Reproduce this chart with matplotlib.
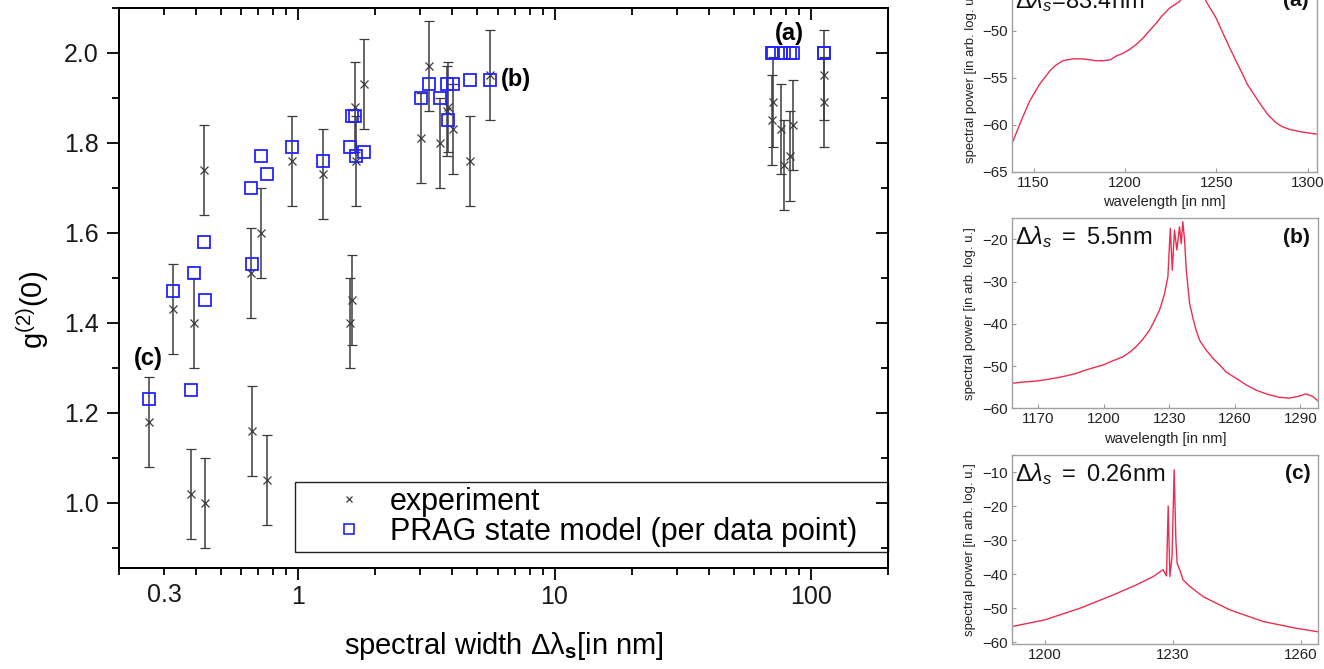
import numpy as np
import matplotlib
matplotlib.use("Agg")
import matplotlib.pyplot as plt
from matplotlib.ticker import LogLocator, FuncFormatter, MultipleLocator, FormatStrFormatter
from matplotlib.lines import Line2D

plt.rcParams['font.family'] = ['Liberation Sans', 'DejaVu Sans']
plt.rcParams['mathtext.fontset'] = 'custom'
plt.rcParams['mathtext.rm'] = 'Liberation Sans'
plt.rcParams['mathtext.it'] = 'Liberation Sans:italic'
plt.rcParams['mathtext.bf'] = 'Liberation Sans:bold'

# ---- g2(0) versus spectral width ----
width_nm = [0.262, 0.324, 0.391, 0.381, 0.430, 0.432, 0.653, 0.660, 0.713, 0.757,
            0.95, 1.25, 1.60, 1.62, 1.67, 1.68, 1.80, 3.01, 3.24, 3.57,
            3.80, 3.85, 4.03, 4.68, 5.59, 70.7, 71.3, 76.2, 78.9, 82.8,
            85.3, 113.0, 113.0]
g2_exp = [1.18, 1.43, 1.40, 1.02, 1.74, 1.00, 1.51, 1.16, 1.60, 1.05,
          1.76, 1.73, 1.40, 1.45, 1.88, 1.76, 1.93, 1.81, 1.97, 1.80,
          1.87, 1.88, 1.83, 1.76, 1.95, 1.85, 1.89, 1.83, 1.75, 1.77,
          1.84, 1.95, 1.89]
g2_err = [0.10, 0.10, 0.10, 0.10, 0.10, 0.10, 0.10, 0.10, 0.10, 0.10,
          0.10, 0.10, 0.10, 0.10, 0.10, 0.10, 0.10, 0.10, 0.10, 0.10,
          0.10, 0.10, 0.10, 0.10, 0.10, 0.10, 0.10, 0.10, 0.10, 0.10,
          0.10, 0.10, 0.10]
g2_model = [1.23, 1.47, 1.51, 1.25, 1.58, 1.45, 1.70, 1.53, 1.77, 1.73,
            1.79, 1.76, 1.79, 1.86, 1.86, 1.77, 1.78, 1.90, 1.93, 1.90,
            1.93, 1.85, 1.93, 1.94, 1.94, 2.00, 2.00, 2.00, 2.00, 2.00,
            2.00, 2.00, 2.00]

x_major_ticks = [1, 10, 100]
x_extra_label = 0.3

# ---- example spectra ----
wl_a = [1138.0, 1142.3, 1147.8, 1153.3, 1158.8, 1162.0, 1166.0, 1171.5, 1176.0, 1180.7,
        1184.0, 1188.0, 1192.0, 1195.3, 1199.0, 1202.6, 1206.0, 1209.9, 1213.0, 1217.2,
        1220.0, 1224.5, 1230.0, 1234.0, 1238.0, 1242.0, 1244.5, 1250.0, 1253.5, 1257.3,
        1261.0, 1264.6, 1267.0, 1270.0, 1275.5, 1279.0, 1282.8, 1286.0, 1290.1, 1297.4,
        1305.0]
p_a = [-62.1, -60.0, -57.5, -55.7, -54.3, -53.7, -53.2, -53.0, -53.0, -53.1,
       -53.2, -53.2, -53.1, -52.7, -52.4, -52.0, -51.5, -50.8, -50.1, -49.2,
       -48.5, -47.6, -46.9, -45.6, -45.0, -45.7, -46.9, -48.7, -50.2, -51.8,
       -53.3, -54.7, -55.7, -56.6, -58.2, -59.1, -59.8, -60.2, -60.5, -60.8,
       -61.0]

wl_b = [1157.8, 1163.0, 1170.0, 1175.0, 1181.4, 1187.0, 1192.1, 1196.0, 1200.0, 1204.0,
        1208.8, 1212.0, 1214.9, 1218.0, 1221.0, 1223.0, 1225.6, 1227.9, 1229.4, 1230.0,
        1230.5, 1231.4, 1232.4, 1233.5, 1234.7, 1235.5, 1236.2, 1237.0, 1237.8, 1239.3,
        1241.0, 1242.3, 1244.0, 1246.9, 1250.0, 1253.0, 1256.0, 1260.6, 1265.0, 1269.7,
        1275.0, 1280.4, 1284.9, 1289.5, 1292.5, 1295.6, 1297.9]
p_b = [-54.1, -53.8, -53.5, -53.1, -52.5, -51.8, -50.9, -50.3, -49.7, -48.8,
       -47.8, -46.7, -45.4, -43.6, -41.5, -39.5, -36.7, -32.8, -28.8, -22.5,
       -17.4, -27.3, -17.8, -22.5, -17.0, -21.0, -15.8, -20.0, -27.3, -35.1,
       -39.0, -41.5, -44.0, -46.2, -48.2, -49.7, -51.4, -52.9, -54.4, -55.7,
       -56.7, -57.4, -57.6, -57.1, -56.6, -57.2, -58.2]

wl_c = [1192.2, 1200.0, 1208.2, 1216.0, 1221.5, 1225.4, 1227.7, 1228.5, 1228.9, 1229.3,
        1229.8, 1230.3, 1230.7, 1231.0, 1231.6, 1232.4, 1234.0, 1237.1, 1243.4, 1251.2,
        1259.0, 1264.0]
p_c = [-55.4, -53.4, -50.0, -46.1, -43.1, -40.7, -38.7, -40.5, -20.0, -40.7,
       -34.8, -9.3, -30.0, -36.8, -38.7, -41.7, -43.6, -46.6, -50.5, -53.9,
       -55.9, -56.9]

W, H = 1324, 669
fig = plt.figure(figsize=(W / 100, H / 100), dpi=100)


def rect_px(left, top, right, bottom):
    return [left / W, 1 - bottom / H, (right - left) / W, (bottom - top) / H]


# ---------------- main panel ----------------
ax = fig.add_axes(rect_px(119, 8, 888, 568))
ax.set_xscale('log')

err_col = '#3c3c3c'
ax.errorbar(width_nm, g2_exp, yerr=g2_err, fmt='x', color=err_col, ecolor=err_col,
            elinewidth=1.1, capsize=3.4, capthick=1.1, ms=6, mew=0.9, zorder=2)
ax.plot(width_nm, g2_model, 's', ms=8.3, mfc='none', mec='#2323ff', mew=1.3, zorder=3)

ax.set_xlim(0.2, 200)
ax.set_ylim(0.855, 2.1)

ax.xaxis.set_minor_locator(LogLocator(base=10, subs=np.arange(2, 10), numticks=30))
ax.set_xticks(x_major_ticks)
ax.xaxis.set_major_formatter(FuncFormatter(lambda v, p: f'{v:g}'))
ax.xaxis.set_minor_formatter(
    FuncFormatter(lambda v, p: f'{x_extra_label:g}' if abs(v - x_extra_label) < 1e-6 else ''))
ax.yaxis.set_major_locator(MultipleLocator(0.2))
ax.yaxis.set_minor_locator(MultipleLocator(0.1))
ax.yaxis.set_major_formatter(FormatStrFormatter('%.1f'))

ax.tick_params(which='major', direction='out', length=8.5, width=1.3, labelsize=18,
               colors='black', labelcolor='#1a1a1a')
ax.tick_params(which='minor', direction='out', length=5, width=1.3, labelsize=18,
               labelcolor='#1a1a1a')
ax.tick_params(axis='x', which='major', pad=4)
ax.tick_params(axis='x', which='minor', pad=6)
ax.tick_params(axis='y', which='both', pad=6)
for s in ax.spines.values():
    s.set_linewidth(1.4)

# mirrored inward ticks on top and right
axT = ax.twiny()
axT.set_xscale('log')
axT.set_xlim(ax.get_xlim())
axT.xaxis.set_minor_locator(LogLocator(base=10, subs=np.arange(2, 10), numticks=30))
axT.set_xticks(x_major_ticks)
axT.tick_params(axis='x', which='major', direction='in', length=8.5, width=1.3,
                labeltop=False, top=True, bottom=False)
axT.tick_params(axis='x', which='minor', direction='in', length=5, width=1.3,
                labeltop=False, top=True, bottom=False)
axR = ax.twinx()
axR.set_ylim(ax.get_ylim())
axR.yaxis.set_major_locator(MultipleLocator(0.2))
axR.yaxis.set_minor_locator(MultipleLocator(0.1))
axR.tick_params(axis='y', which='major', direction='in', length=8.5, width=1.3,
                labelright=False, right=True, left=False)
axR.tick_params(axis='y', which='minor', direction='in', length=5, width=1.3,
                labelright=False, right=True, left=False)
for a in (axT, axR):
    for s in a.spines.values():
        s.set_linewidth(1.4)

ax.set_xlabel('spectral width Δλ$_\\mathbf{s}$[in nm]', fontsize=21, va='top')
ax.xaxis.set_label_coords(0.5, -0.11)
ax.set_ylabel(r'g$^{(2)}$(0)', fontsize=21, va='center')
ax.yaxis.set_label_coords(-0.112, 0.46)

ax.text(82.1, 2.044, '(a)', fontsize=17, fontweight='bold', ha='center', va='center')
ax.text(6.2, 1.94, '(b)', fontsize=17, fontweight='bold', ha='left', va='center')
ax.text(0.261, 1.32, '(c)', fontsize=17, fontweight='bold', ha='center', va='center')

handles = [Line2D([], [], ls='none', marker='x', ms=5, mew=0.9, color=err_col),
           Line2D([], [], ls='none', marker='s', ms=7.5, mfc='none', mec='#2323ff', mew=1.2)]
leg = ax.legend(handles, ['experiment', 'PRAG state model (per data point)'],
                loc='lower left', bbox_to_anchor=(0.2289, 0.0286, 0.7711, 0.14),
                mode='expand', borderaxespad=0, fontsize=22, frameon=True,
                fancybox=False, framealpha=1, edgecolor='#222222',
                borderpad=0.16, labelspacing=0.0, handlelength=3.2, handletextpad=-0.25)
leg.get_frame().set_linewidth(1.0)
leg.set_zorder(5)


# ---------------- spectra ----------------
def spectrum_panel(rect, wl, power, xlim, ylim, xticks, yticks, width_label, tag,
                   show_xlabel=True):
    axp = fig.add_axes(rect)
    axp.plot(wl, power, color='#e8173f', lw=1.0, alpha=0.9)
    axp.set_xlim(*xlim)
    axp.set_ylim(*ylim)
    axp.set_xticks(xticks)
    axp.set_yticks(yticks)
    axp.tick_params(direction='in', length=3, width=0.8, color='#9a9a9a',
                    labelsize=10.8, labelcolor='#222222', pad=3)
    for s in axp.spines.values():
        s.set_color('#a0a0a0')
        s.set_linewidth(1.0)
    if show_xlabel:
        axp.set_xlabel('wavelength [in nm]', fontsize=10.5, color='#222222', va='center')
        axp.xaxis.set_label_coords(0.5, -0.16)
    axp.set_ylabel('spectral power [in arb. log. u.]', fontsize=9.5, color='#222222',
                   va='center')
    axp.yaxis.set_label_coords(-0.135, 0.5)
    axp.text(0.01, 0.9, width_label, transform=axp.transAxes, fontsize=17,
             ha='left', va='center', color='#111111')
    axp.text(0.975, 0.9, tag, transform=axp.transAxes, fontsize=15, fontweight='bold',
             ha='right', va='center', color='#111111')
    return axp


spectrum_panel(rect_px(1011.7, -18.3, 1316.7, 171.7), wl_a, p_a, (1138, 1305), (-65, -44.8),
               [1150, 1200, 1250, 1300], [-65, -60, -55, -50, -45],
               r'$\Delta\lambda_s$=83.4nm', '(a)')
spectrum_panel(rect_px(1011.7, 218.3, 1318, 408.3), wl_b, p_b, (1158, 1298), (-60, -15),
               [1170, 1200, 1230, 1260, 1290], [-60, -50, -40, -30, -20],
               r'$\Delta\lambda_s\ =\ 5.5$nm', '(b)')
spectrum_panel(rect_px(1011.7, 455, 1318.3, 644), wl_c, p_c, (1192.2, 1264.1), (-60.5, -5),
               [1200, 1230, 1260], [-60, -50, -40, -30, -20, -10],
               r'$\Delta\lambda_s\ =\ 0.26$nm', '(c)', show_xlabel=False)

fig.savefig('out.png', dpi=100)
